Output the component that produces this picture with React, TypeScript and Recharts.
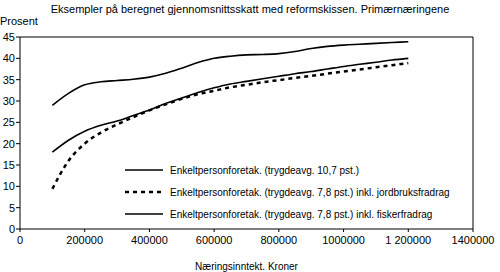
import React from 'react'
import { LineChart, Line, XAxis, YAxis, ReferenceLine } from 'recharts'

const income = [100000,150000,200000,250000,300000,350000,400000,450000,500000,550000,600000,650000,700000,750000,800000,850000,900000,950000,1000000,1050000,1100000,1150000,1200000]
const enk107 = [29.0,31.8,33.8,34.5,34.8,35.1,35.6,36.5,37.7,39.0,40.0,40.5,40.8,40.9,41.1,41.6,42.3,42.8,43.1,43.3,43.5,43.7,43.9]
const jordbruk = [9.4,16.0,20.0,22.6,24.5,26.2,27.8,29.2,30.5,31.6,32.4,33.2,33.8,34.4,34.9,35.4,35.9,36.4,36.9,37.4,37.9,38.4,38.9]
const fisker = [18.0,20.8,22.9,24.3,25.3,26.6,27.9,29.4,30.7,32.0,33.1,34.0,34.6,35.2,35.8,36.4,36.9,37.5,38.1,38.6,39.1,39.6,40.0]

const xTicks = [0,200000,400000,600000,800000,1000000,1200000,1400000]
const xTickLabels = ['0','200000','400000','600000','800000','1000000','1 200000','1400000']
const yTicks = [0,5,10,15,20,25,30,35,40,45]

const names = ['Enkeltpersonforetak. (trygdeavg. 10,7 pst.)','Enkeltpersonforetak. (trygdeavg. 7,8 pst.) inkl. jordbruksfradrag','Enkeltpersonforetak. (trygdeavg. 7,8 pst.) inkl. fiskerfradrag']
const data = income.map((x,i)=>({ x, a:enk107[i], b:jordbruk[i], c:fisker[i] }))

const FONT = '"Liberation Sans", Arial, sans-serif'
const TK = { fontSize:11, fill:'#000', fontFamily:FONT }

function LegendBox() {
  const dash = ['', '4 4', '']
  return (
    <div style={{ position:'absolute', left:125, top:159, fontFamily:FONT, fontSize:10, color:'#000' }}>
      {names.map((n,i)=>(
        <div key={i} style={{ display:'flex', alignItems:'center', height:22, whiteSpace:'nowrap' }}>
          <svg width={45} height={6}><line x1={0} y1={3} x2={38} y2={3} stroke="#000" strokeWidth={i===1?2.5:1.6} strokeDasharray={dash[i]}/></svg>
          <span>{n}</span>
        </div>
      ))}
    </div>
  )
}

export default function App() {
  return (
    <div style={{ position:'absolute', left:0, top:0, width:500, height:272, background:'#fff', fontFamily:FONT }}>
      <LineChart width={500} height={272} data={data} margin={{ top:37, right:0, left:0, bottom:0 }}>
        <XAxis dataKey="x" type="number" domain={[0,1400000]} ticks={xTicks} tickFormatter={(v:number)=>xTickLabels[xTicks.indexOf(v)]??String(v)}
          tick={TK} tickSize={3} tickMargin={4} stroke="#000" interval={0} height={43}
          label={{ value:'Næringsinntekt. Kroner', position:'insideBottom', offset:2, style:{ fontSize:10, fill:'#000', fontFamily:FONT } }}/>
        <YAxis yAxisId="l" orientation="left" domain={[0,45]} ticks={yTicks} tick={TK} tickSize={4} tickMargin={1} stroke="#000" width={20} interval={0}/>
        <YAxis yAxisId="r" orientation="right" domain={[0,45]} ticks={yTicks} tick={TK} tickSize={4} tickMargin={1} stroke="#000" width={27} interval={0}/>
        <ReferenceLine yAxisId="l" y={45} stroke="#000"/>
        <Line yAxisId="l" dataKey="a" stroke="#000" strokeWidth={1.6} dot={false} type="monotone" isAnimationActive={false}/>
        <Line yAxisId="l" dataKey="b" stroke="#000" strokeWidth={2.5} strokeDasharray="4 4" dot={false} type="monotone" isAnimationActive={false}/>
        <Line yAxisId="l" dataKey="c" stroke="#000" strokeWidth={1.6} dot={false} type="monotone" isAnimationActive={false}/>
      </LineChart>
      <div style={{ position:'absolute', top:3, width:500, textAlign:'center', fontSize:11 }}>Eksempler på beregnet gjennomsnittsskatt med reformskissen. Primærnæringene</div>
      <div style={{ position:'absolute', top:15, left:0, fontSize:11 }}>Prosent</div>
      <LegendBox/>
    </div>
  )
}
